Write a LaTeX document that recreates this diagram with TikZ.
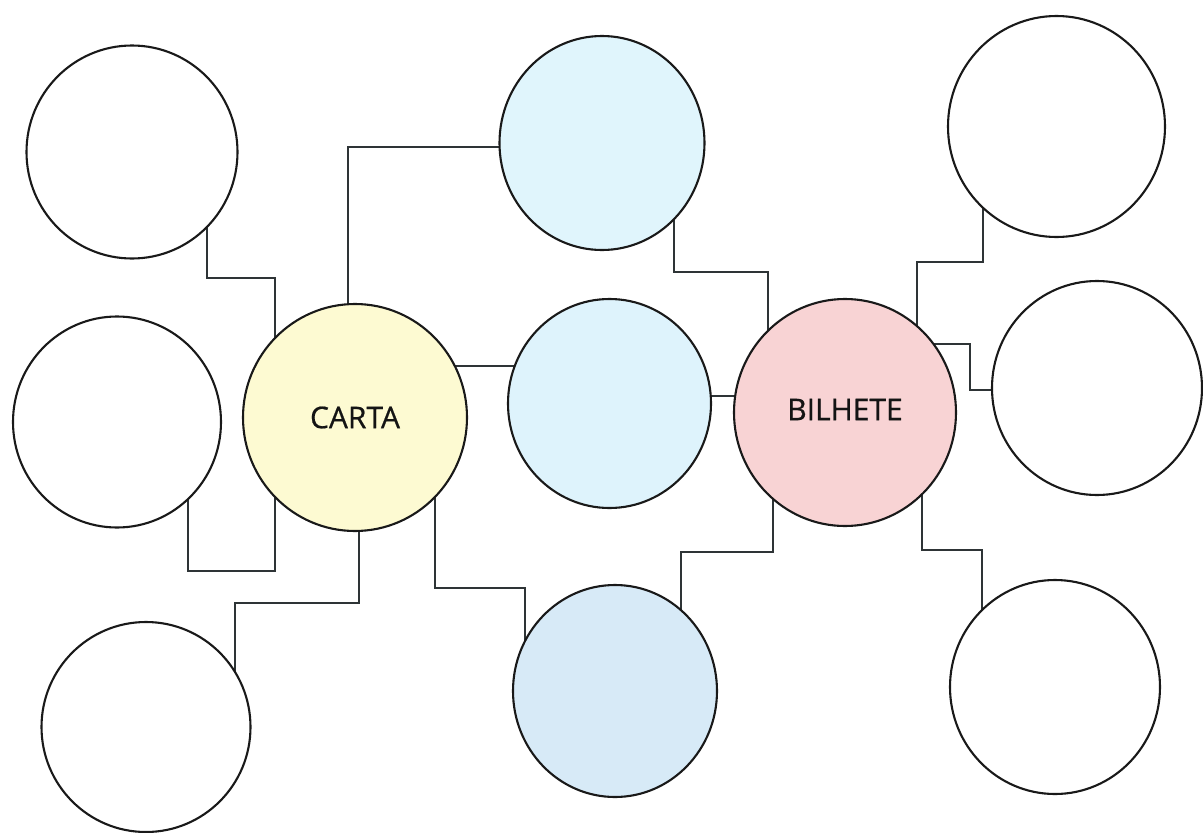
\documentclass[tikz,border=0pt]{standalone}
\usepackage{fontspec}
\setmainfont{Open Sans}
\newfontfamily\labelfont[FakeBold=0.6]{Open Sans}
\usetikzlibrary{shapes.geometric,calc}
\pgfdeclarelayer{paper}
\pgfdeclarelayer{wires}
\pgfsetlayers{paper,wires,main}
\definecolor{cartafill}{HTML}{FDFAD2}
\definecolor{blueA}{HTML}{E0F5FC}
\definecolor{blueB}{HTML}{DEF3FC}
\definecolor{blueC}{HTML}{D7EAF7}
\definecolor{pinkfill}{HTML}{F8D3D4}
\definecolor{linegray}{HTML}{2E3436}
\tikzset{
  bubble/.style={ellipse, draw=black!90, line width=2.1pt, fill=white, inner sep=0pt,
    font=\labelfont\fontsize{30}{34}\selectfont, text=black!92},
  link/.style={draw=linegray, line width=1.6pt},
}
\begin{document}
\begin{tikzpicture}[x=1pt,y=-1pt]
\useasboundingbox (0,0) rectangle (1203,833);
\begin{pgfonlayer}{paper}
\fill[white] (0,0) rectangle (1203,833);
\end{pgfonlayer}
% outer circles
\node[bubble, minimum width=211pt, minimum height=213pt] (tl1) at (132,152) {};
\node[bubble, minimum width=208pt, minimum height=211pt] (l2) at (117,422) {};
\node[bubble, minimum width=209pt, minimum height=210pt] (l3) at (146,727) {};
\node[bubble, minimum width=217pt, minimum height=221pt] (tr1) at (1056.5,126.5) {};
\node[bubble, minimum width=210pt, minimum height=214pt] (r2) at (1097,388) {};
\node[bubble, minimum width=210pt, minimum height=214pt] (r3) at (1055,687) {};
% coloured circles
\node[bubble, fill=cartafill, minimum width=224pt, minimum height=227pt] (carta) at (355,417.5) {CARTA};
\node[bubble, fill=blueA, minimum width=205pt, minimum height=214pt] (b1) at (602,143) {};
\node[bubble, fill=blueB, minimum width=203pt, minimum height=209pt] (b2) at (609.5,403.5) {};
\node[bubble, fill=blueC, minimum width=204pt, minimum height=212pt] (b3) at (615,691) {};
\node[bubble, fill=pinkfill, minimum width=222pt, minimum height=227pt] (bil) at (845,412.5) {\raisebox{6pt}{BILHETE}};
% connectors
\begin{pgfonlayer}{wires}
\draw[link] ($(tl1.center)+(75,0)$) -- ($(tl1.center)+(75,126)$) -| ($(carta.center)+(-80,0)$);
\draw[link] ($(l2.center)+(71,0)$) -- ($(l2.center)+(71,149)$) -| ($(carta.center)+(-80,0)$);
\draw[link] ($(carta.center)+(4,0)$) -- ($(carta.center)+(4,185.5)$) -| ($(l3.center)+(89,0)$);
\draw[link] ($(carta.center)+(-7,0)$) |- ($(b1.center)+(0,4)$);
\draw[link] ($(carta.center)+(0,-51.5)$) -- ($(b2.center)+(0,-37.5)$);
\draw[link] ($(carta.center)+(80,0)$) -- ($(carta.center)+(80,170.5)$) -| ($(b3.center)+(-90,0)$);
\draw[link] ($(b1.center)+(72,0)$) -- ($(b1.center)+(72,129)$) -| ($(bil.center)+(-77,0)$);
\draw[link] ($(b2.center)+(0,-7.5)$) -- ($(bil.center)+(0,-16.5)$);
\draw[link] ($(bil.center)+(-72,0)$) -- ($(bil.center)+(-72,139.5)$) -| ($(b3.center)+(66,0)$);
\draw[link] ($(bil.center)+(72,0)$) -- ($(bil.center)+(72,-150.5)$) -| ($(tr1.center)+(-73.5,0)$);
\draw[link] ($(bil.center)+(0,-68.5)$) -- ($(bil.center)+(125,-68.5)$) |- ($(r2.center)+(0,2)$);
\draw[link] ($(bil.center)+(77,0)$) -- ($(bil.center)+(77,137.5)$) -| ($(r3.center)+(-73,0)$);
\end{pgfonlayer}
\end{tikzpicture}
\end{document}
